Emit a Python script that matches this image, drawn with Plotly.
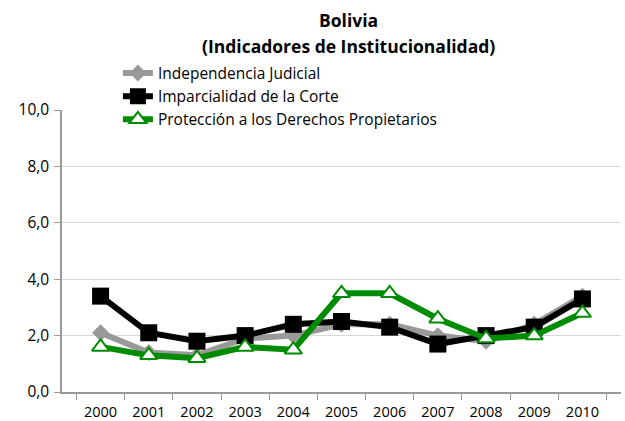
import plotly.graph_objects as go

years = ["2000", "2001", "2002", "2003", "2004", "2005", "2006", "2007", "2008", "2009", "2010"]
independencia = [2.1, 1.4, 1.3, 1.9, 2.0, 2.4, 2.4, 2.0, 1.8, 2.4, 3.4]
imparcialidad = [3.4, 2.1, 1.8, 2.0, 2.4, 2.5, 2.3, 1.7, 2.0, 2.3, 3.3]
proteccion = [1.6, 1.3, 1.2, 1.6, 1.5, 3.5, 3.5, 2.6, 1.9, 2.0, 2.8]
names = ["Independencia Judicial", "Imparcialidad de la Corte", "Protección a los Derechos Propietarios"]
title_lines = ["Bolivia", "(Indicadores de Institucionalidad)"]

fig = go.Figure()
fig.add_trace(go.Scatter(x=years, y=independencia, name=names[0], mode="lines+markers",
                         line=dict(color="#999999", width=6),
                         marker=dict(symbol="diamond", size=13, color="#999999")))
fig.add_trace(go.Scatter(x=years, y=imparcialidad, name=names[1], mode="lines+markers",
                         line=dict(color="#000000", width=6),
                         marker=dict(symbol="square", size=17, color="#000000")))
fig.add_trace(go.Scatter(x=years, y=proteccion, name=names[2], mode="lines+markers",
                         line=dict(color="#008c00", width=6),
                         marker=dict(symbol="triangle-up", size=15, color="#ffffff",
                                     line=dict(color="#008c00", width=2))))

H0, H1 = 392, 110  # pixel rows of y=0 and y=10 (for paper coords)
def py(p):
    return (H0 - p) / (H0 - H1)
def px(p):
    return (p - 62) / 559

fig.update_layout(
    width=625, height=421,
    margin=dict(l=62, r=4, t=110, b=29),
    paper_bgcolor="white", plot_bgcolor="white",
    separators=",.",
    font=dict(family="Open Sans, Liberation Sans, sans-serif", size=14, color="#000000"),
    legend=dict(x=0.1, y=1.19, xanchor="left", yanchor="top",
                bgcolor="rgba(0,0,0,0)", font=dict(size=15.5), tracegroupgap=0,
                itemwidth=30),
    showlegend=True,
    shapes=[dict(type="rect", xref="paper", yref="paper",
                 x0=px(98), x1=px(458), y0=py(114), y1=py(105),
                 fillcolor="white", line=dict(width=0), layer="between")],
    annotations=[
        dict(text="<b>" + title_lines[0] + "</b>", xref="paper", yref="paper",
             x=0.513, y=py(20), xanchor="center", yanchor="middle",
             showarrow=False, font=dict(size=17.5)),
        dict(text="<b>" + title_lines[1] + "</b>", xref="paper", yref="paper",
             x=0.513, y=py(46), xanchor="center", yanchor="middle",
             showarrow=False, font=dict(size=17.5)),
    ],
)
fig.update_xaxes(type="category", tickson="boundaries", ticks="outside", ticklen=6,
                 tickcolor="#999999", showline=True, linecolor="#999999", linewidth=1.5,
                 showgrid=False, tickfont=dict(size=14.5), ticklabelstandoff=6,
                 automargin=False)
fig.update_yaxes(range=[0, 10], dtick=2, tickformat=".1f", ticks="outside", ticklen=6,
                 tickcolor="#999999", showline=True, linecolor="#999999", linewidth=1.5,
                 showgrid=True, gridcolor="#d9d9d9", gridwidth=1, zeroline=False,
                 tickfont=dict(size=15.5), ticklabelstandoff=2, automargin=False)

fig.write_html("out.html", post_script="document.body.style.margin='0px';",
               config={"displayModeBar": False})
